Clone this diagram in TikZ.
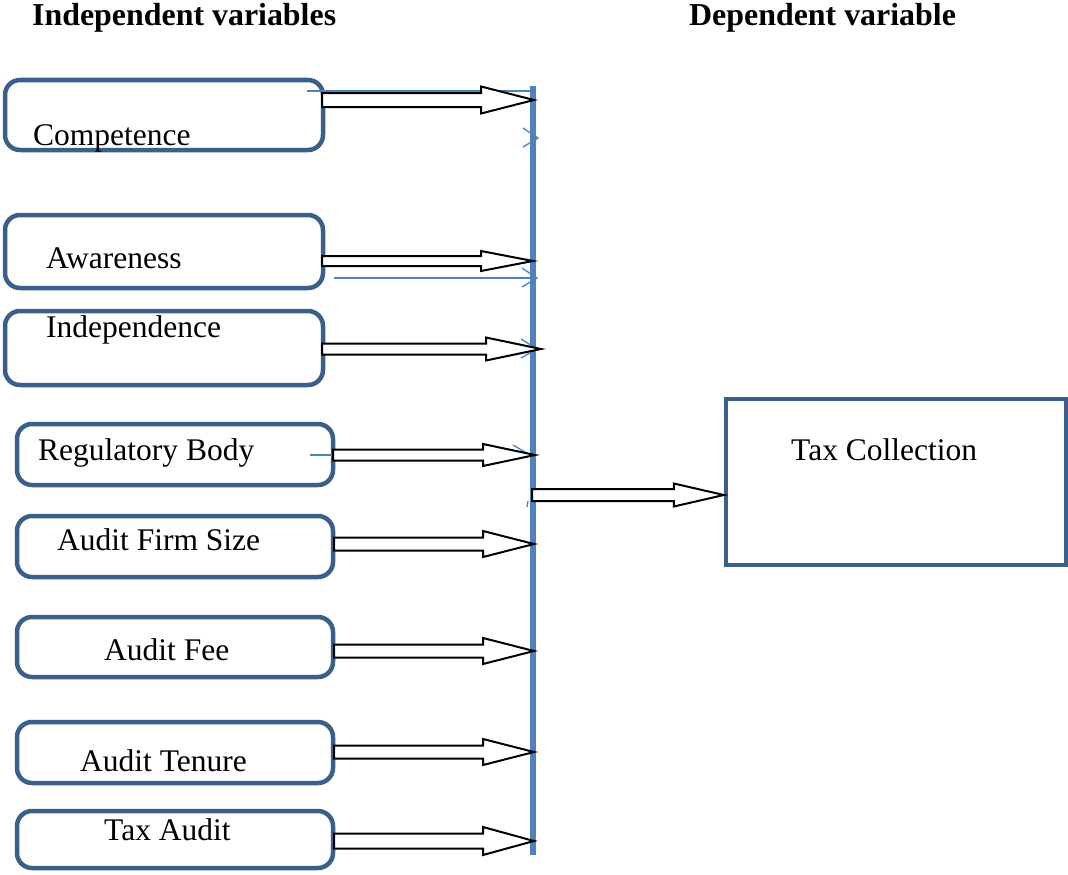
\documentclass[tikz,border=0pt]{standalone}
\usepackage{fontspec}
\setmainfont{Liberation Serif}
\usetikzlibrary{calc}
\definecolor{boxblue}{HTML}{3A5F8B}
\definecolor{lineblue}{HTML}{4F81BD}
\tikzset{
  varbox/.style={draw=boxblue, line width=4.5pt, rounded corners=15pt, fill=white, inner sep=0pt},
  depbox/.style={draw=boxblue, line width=4.3pt, fill=white, inner sep=0pt},
  lbl/.style={anchor=base west, inner sep=0pt, font=\fontsize{31.5}{36}\selectfont},
  head/.style={anchor=base west, inner sep=0pt, font=\fontsize{31.9}{36}\selectfont\bfseries},
  blockarrow/.style={draw=black, line width=2pt, fill=white, line join=miter},
  vline/.style={draw=lineblue, line width=6.5pt},
  stray/.style={draw=lineblue, line width=1.3pt}
}
\newcommand{\blockarr}[5]{%
  \draw[blockarrow] ($(#1)+(0,-#3)$) -- ($(#2)+(-#5,-#3)$) -- ($(#2)+(-#5,-#4)$) -- (#2)
    -- ($(#2)+(-#5,#4)$) -- ($(#2)+(-#5,#3)$) -- ($(#1)+(0,#3)$) -- cycle;}
\begin{document}
\begin{tikzpicture}[x=1pt,y=-1pt]
\useasboundingbox (0,0) rectangle (1068,875);

% headings
\node[head] (hind) at (32,26) {Independent variables};
\node[head] (hdep) at (689,26) {Dependent variable};

% independent variable boxes
\node[varbox, minimum width=318pt, minimum height=70pt] (c1) at (164,115) {};
\node[varbox, minimum width=318pt, minimum height=73pt] (c2) at (164,251.5) {};
\node[varbox, minimum width=318pt, minimum height=74pt] (c3) at (164,348) {};
\node[varbox, minimum width=316pt, minimum height=61pt] (c4) at (175,454.5) {};
\node[varbox, minimum width=316pt, minimum height=61pt] (c5) at (175,546.5) {};
\node[varbox, minimum width=316pt, minimum height=60pt] (c6) at (175,647) {};
\node[varbox, minimum width=316pt, minimum height=61pt] (c7) at (175,752.5) {};
\node[varbox, minimum width=316pt, minimum height=57pt] (c8) at (175,839.5) {};

% labels
\node[lbl] (l1) at (33,145) {Competence};
\node[lbl] (l2) at (46,268) {Awareness};
\node[lbl] (l3) at (46,337) {Independence};
\node[lbl] (l4) at (38,460) {Regulatory Body};
\node[lbl] (l5) at (57,550) {Audit Firm Size};
\node[lbl] (l6) at (104,660) {Audit Fee};
\node[lbl] (l7) at (80,771) {Audit Tenure};
\node[lbl] (l8) at (104,840) {Tax Audit};

% dependent variable box
\node[depbox, minimum width=340pt, minimum height=166pt] (tc) at (896,482) {};
\node[lbl] (ltc) at (791,460) {Tax Collection};

% vertical collector line
\coordinate (vt) at (533,86);
\coordinate (vb) at (533,855);
\draw[vline] (vt) -- (vb);

% stray thin blue arrows
\coordinate (b1s) at (307,91);  \coordinate (b1e) at (531,91);
\draw[stray] (b1s) -- (b1e);
\draw[stray] (523,128) -- (538,138) -- (523,147);
\coordinate (b2s) at (334,278); \coordinate (b2e) at (537,278);
\draw[stray] (b2s) -- (b2e);
\draw[stray] (522,268) -- (537,278) -- (522,287);
\draw[stray] (521,339) -- (537,349) -- (521,358);
\coordinate (b4s) at (310,455); \coordinate (b4e) at (333,455);
\draw[stray] (b4s) -- (b4e);
\draw[stray] (513,445) -- (530,455);
\draw[stray] (528,501) -- (527,507);

% block arrows
\coordinate (s1) at (322,100); \coordinate (t1) at (534,100);
\coordinate (s2) at (322,261); \coordinate (t2) at (533,261);
\coordinate (s3) at (322,349); \coordinate (t3) at (541,349);
\coordinate (s4) at (333,455); \coordinate (t4) at (535,455);
\coordinate (s5) at (334,544); \coordinate (t5) at (534,544);
\coordinate (s6) at (334,651); \coordinate (t6) at (534,651);
\coordinate (s7) at (334,752); \coordinate (t7) at (534,752);
\coordinate (s8) at (334,841); \coordinate (t8) at (534,841);
\coordinate (sm) at (532,495); \coordinate (tm) at (tc.west |- 0,495);

\blockarr{s1}{t1}{7}{13.5}{53}
\blockarr{s2}{t2}{5}{10}{52}
\blockarr{s3}{t3}{5.5}{11.5}{55}
\blockarr{s4}{t4}{5.5}{11}{52}
\blockarr{s5}{t5}{6.5}{13}{51}
\blockarr{s6}{t6}{6.5}{13}{51}
\blockarr{s7}{t7}{6.5}{13}{51}
\blockarr{s8}{t8}{7.5}{14}{51}
\blockarr{sm}{tm}{6}{11.5}{50}
\end{tikzpicture}
\end{document}
